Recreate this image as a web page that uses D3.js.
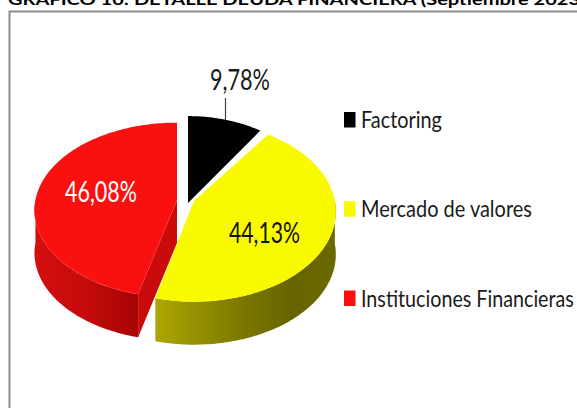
<!DOCTYPE html>
<html>
<head>
<meta charset="utf-8">
<script src="https://cdn.jsdelivr.net/npm/d3@7"></script>
<style>
html,body{margin:0;padding:0;background:#fff;overflow:hidden}
svg{display:block}
text{font-family:Lato,"Open Sans",sans-serif}
</style>
</head>
<body>
<svg id="c" width="577" height="408"></svg>
<script>
const titleText = "GRÁFICO 10: DETALLE DEUDA FINANCIERA (Septiembre 2023)";
const categories = ["Factoring", "Mercado de valores", "Instituciones Financieras"];
const values = [9.78, 44.13, 46.08];
const labels = ["9,78%", "44,13%", "46,08%"];
const colors = ["#000000", "#f9f900", "#fb1010"];

const W = 577, H = 408;
const svg = d3.select("#c");
const defs = svg.append("defs");

function grad(id, x1, x2, stops){
  const g = defs.append("linearGradient").attr("id", id)
    .attr("gradientUnits","userSpaceOnUse").attr("x1",x1).attr("x2",x2).attr("y1",0).attr("y2",0);
  stops.forEach(s => g.append("stop").attr("offset",s[0]).attr("stop-color",s[1]));
}
grad("wallY", 157, 337, [[0,"#aba600"],[0.45,"#7d7a00"],[0.75,"#666400"],[1,"#6b6a00"]]);
grad("wallR", 35, 137, [[0,"#d40e0e"],[0.5,"#c50b0b"],[1,"#a50505"]]);

// Text squeezed horizontally to the reference's narrow letterforms
function fitText(sel, x, y, width){
  const natural = sel.node().getComputedTextLength();
  sel.attr("transform", `translate(${x},${y}) scale(${width/natural},1)`);
}

// Title (clipped by the top of the picture) and frame
fitText(svg.append("text").attr("font-size",15.5).attr("font-weight",700).attr("fill","#000").text(titleText), 8, 5, 578);
svg.append("path").attr("d",`M9.5 ${H}V11.5H${W}`).attr("fill","none")
  .attr("stroke","#8c8c8c").attr("stroke-width",2);

// Pie geometry from D3
const arcs = d3.pie().sort(null).value(d=>d)(values);
const rx = 143, ry = 89, k = 0.116, depth = 43;
const centers = [[188,203],[194,201],[177,200]];
const radii = [[0.96,1.09],[0.985,1],[0.99,0.97]];

function rim(i, a){
  const s = 1/(1 + k*Math.cos(a));
  return [centers[i][0] + rx*radii[i][0]*Math.sin(a)*s,
          centers[i][1] - ry*radii[i][1]*Math.cos(a)*s];
}
function rimPts(i, a0, a1){
  const n = Math.max(2, Math.ceil(Math.abs(a1-a0)/0.02));
  return d3.range(n+1).map(j => rim(i, a0 + (a1-a0)*j/n));
}
const line = d3.line();
const down = p => [p[0], p[1]+depth];

// Factoring leader line
svg.append("line").attr("x1",225.5).attr("x2",225.5).attr("y1",98).attr("y2",121)
  .attr("stroke","#404040").attr("stroke-width",1.2);

// Walls
function frontWall(i, a0, a1, fill){
  const p = rimPts(i, a0, a1);
  svg.append("path").attr("d", line(p.concat(p.slice().reverse().map(down)))+"Z").attr("fill",fill);
}
frontWall(1, Math.PI/2, arcs[1].endAngle, "url(#wallY)");
frontWall(2, arcs[2].startAngle, 3*Math.PI/2, "url(#wallR)");
const rc = [centers[2], rim(2, arcs[2].startAngle)];
svg.append("path").attr("d", line([rc[0], rc[1], down(rc[1]), down(rc[0])])+"Z").attr("fill","#c90b0b");

// Tops
[0,2,1].forEach(i => {
  const p = [centers[i]].concat(rimPts(i, arcs[i].startAngle, arcs[i].endAngle));
  svg.append("path").attr("d", line(p)+"Z").attr("fill", colors[i]);
});

// Data labels
const lab = [[210,90,60,"#1a1a1a"],[229,243,71,"#111"],[65,202,72,"#ffffff"]];
labels.forEach((t,i)=>{
  fitText(svg.append("text").attr("font-size",28).attr("fill",lab[i][3]).text(t), lab[i][0], lab[i][1], lab[i][2]);
});

// Legend
const legendY = d3.scalePoint().domain(categories).range([120,298.5]);
const legendW = [81, 171, 213];
categories.forEach((c,i)=>{
  const y = legendY(c);
  svg.append("rect").attr("x",344).attr("y",y-8).attr("width",11.5).attr("height",15.5).attr("fill",i==0?"#000":colors[i]);
  fitText(svg.append("text").attr("font-size",22.5).attr("fill","#1a1a1a").text(c), 361, y+8, legendW[i]);
});
</script>
</body>
</html>
